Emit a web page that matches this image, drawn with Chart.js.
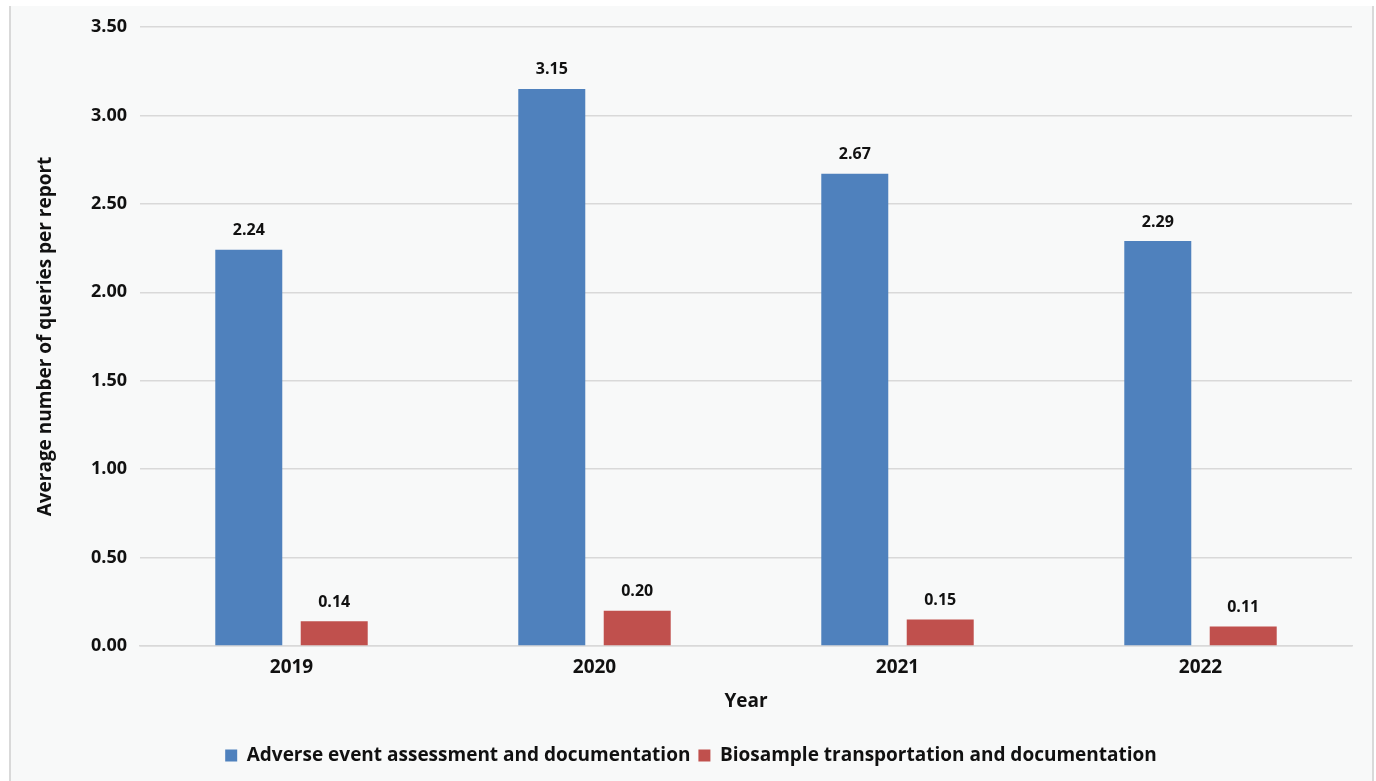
<!DOCTYPE html>
<html>
<head>
<meta charset="utf-8">
<script src="https://cdn.jsdelivr.net/npm/chart.js@4/dist/chart.umd.min.js"></script>
<style>
  html, body { margin: 0; padding: 0; background: #ffffff; }
  body { width: 1376px; height: 781px; position: relative; overflow: hidden; }
  #panel {
    position: absolute; left: 9px; top: 6px; width: 1361px; height: 780px;
    background: #f8f9f9; border-left: 2px solid #d9d9d9; border-right: 2px solid #d9d9d9;
  }
  #wrap { position: absolute; left: 0; top: 0; width: 1376px; height: 781px; }
</style>
</head>
<body>
<div id="panel"></div>
<div id="wrap"><canvas id="chart" width="1376" height="781"></canvas></div>
<script>
// Average number of queries per report, by year
const years = ['2019', '2020', '2021', '2022'];
const adverseEvent = [2.24, 3.15, 2.67, 2.29];
const biosample = [0.14, 0.20, 0.15, 0.11];
const yTicks = [0, 0.5, 1, 1.5, 2, 2.5, 3, 3.5];

const FONT = "'Open Sans', 'Noto Sans', sans-serif";
const INK = '#111111';

// Writes each bar's value just above it
const valueLabels = {
  id: 'valueLabels',
  afterDatasetsDraw(chart) {
    const ctx = chart.ctx;
    ctx.save();
    ctx.font = 'bold 16px ' + FONT;
    ctx.fillStyle = INK;
    ctx.textAlign = 'center';
    ctx.textBaseline = 'bottom';
    chart.data.datasets.forEach((ds, i) => {
      chart.getDatasetMeta(i).data.forEach((bar, j) => {
        ctx.fillText(ds.data[j].toFixed(2), bar.x, bar.y - 11);
      });
    });
    ctx.restore();
  }
};

new Chart(document.getElementById('chart'), {
  type: 'bar',
  data: {
    labels: years,
    datasets: [
      { label: 'Adverse event assessment and documentation', data: adverseEvent, backgroundColor: '#4f81bd' },
      { label: 'Biosample transportation and documentation', data: biosample, backgroundColor: '#c0504d' }
    ]
  },
  plugins: [valueLabels],
  options: {
    responsive: false,
    animation: false,
    devicePixelRatio: 1,
    layout: { padding: { left: 30, right: 24, top: 27, bottom: 6 } },
    datasets: { bar: { categoryPercentage: 0.564, barPercentage: 0.784 } },
    plugins: {
      legend: {
        position: 'bottom',
        labels: {
          boxWidth: 12, boxHeight: 12, padding: 8,
          color: INK, font: { family: FONT, size: 19, weight: 'bold' }
        }
      },
      tooltip: { enabled: false }
    },
    scales: {
      x: {
        grid: { display: false, drawTicks: false },
        border: { display: true, color: '#d9d9d9', width: 1.5 },
        ticks: { color: INK, padding: 10, font: { family: FONT, size: 19, weight: 'bold' } },
        title: { display: true, text: 'Year', color: INK, padding: { top: 10, bottom: 25 },
                 font: { family: FONT, size: 19, weight: 'bold' } },
        afterFit(scale) { scale.height = 92; }
      },
      y: {
        min: 0, max: 3.5,
        afterBuildTicks(scale) { scale.ticks = yTicks.map(v => ({ value: v })); },
        grid: { color: '#d9d9d9', lineWidth: 1.5, drawTicks: false },
        border: { display: false },
        ticks: {
          color: INK, padding: 13,
          font: { family: FONT, size: 18, weight: 'bold' },
          callback: v => Number(v).toFixed(2)
        },
        title: { display: true, text: 'Average number of queries per report', color: INK,
                 padding: { top: 4, bottom: 0 },
                 font: { family: FONT, size: 19, weight: 'bold' } },
        afterFit(scale) { scale.width = 110; }
      }
    }
  }
});
</script>
</body>
</html>
